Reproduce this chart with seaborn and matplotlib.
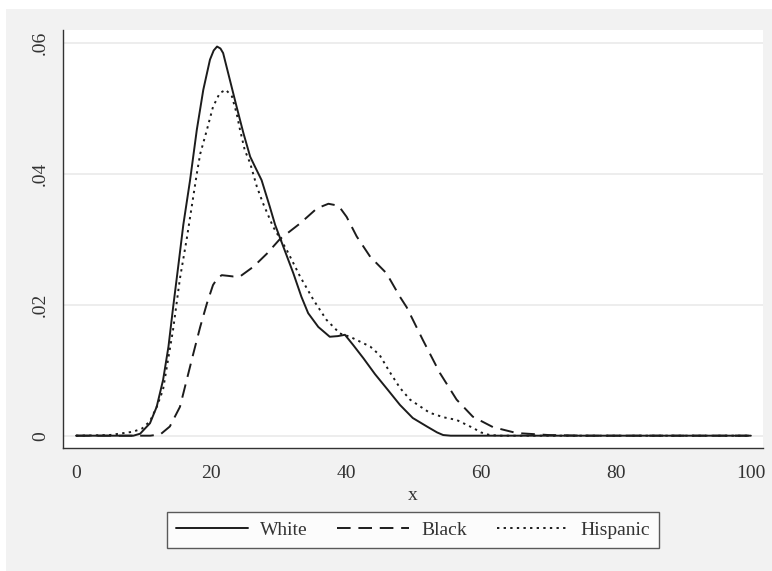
import matplotlib
matplotlib.use("Agg")
import matplotlib.pyplot as plt
import seaborn as sns
import pandas as pd
from matplotlib.patches import Rectangle
from matplotlib.lines import Line2D

# ---- data ----
white_x = [0, 8.5, 9.5, 10.96, 11.95, 12.9, 13.7, 14.4, 15.2, 15.9, 16.9, 17.9, 18.86, 19.85,
           20.4, 20.9, 21.4, 21.8, 22.8, 23.8, 24.8, 25.8, 26.5, 27.5, 28.7, 29.5, 30.7,
           32.2, 33.4, 34.4, 35.9, 37.6, 38.8, 39.85, 41.1, 42.6, 44.3, 46.2, 48.0, 49.9,
           52.0, 53.5, 54.4, 55.5, 100]
white_y = [0, 0, 0.0003, 0.0019, 0.0044, 0.0085, 0.0136, 0.0197, 0.0263, 0.0322, 0.0390, 0.0467, 0.0528, 0.0574,
           0.0588, 0.0594, 0.0591, 0.0584, 0.0543, 0.0502, 0.0462, 0.0426, 0.0411, 0.0390, 0.0350, 0.0322, 0.0289,
           0.0248, 0.0212, 0.0187, 0.0166, 0.0151, 0.0152, 0.0154, 0.0138, 0.0118, 0.0094, 0.0070, 0.0047, 0.0027,
           0.0014, 0.0005, 0.0001, 0, 0]

black_x = [0, 11, 12.5, 13.9, 15.4, 16.4, 17.4, 18.4, 19.4, 20.3, 21.0, 21.6, 22.5, 23.3, 24.3,
           26.3, 28.3, 30.2, 33.2, 35.7, 37.4, 38.9, 40.1, 41.6, 43.6, 46.0, 48.0, 49.0,
           51.4, 53.9, 56.4, 58.8, 61.8, 65.3, 70, 75, 100]
black_y = [0, 0, 0.0002, 0.0014, 0.0044, 0.0085, 0.0126, 0.0166, 0.0202, 0.0230, 0.0241, 0.0245, 0.0244, 0.0243, 0.0243,
           0.0258, 0.0278, 0.0300, 0.0324, 0.0347, 0.0354, 0.0351, 0.0334, 0.0304, 0.0273, 0.0248, 0.0212, 0.0196,
           0.0146, 0.0096, 0.0055, 0.0029, 0.0013, 0.0004, 0.0001, 0, 0]

hisp_x = [0, 5, 8.44, 9.8, 10.96, 12.0, 12.89, 14.37, 15.4, 16.4, 17.3, 17.9, 18.4, 19.4, 20.3,
          21.3, 22.2, 23.1, 23.8, 24.3, 25.0, 25.8, 26.8, 27.7, 29.2, 31.2, 33.2, 35.2, 37.1,
          39.1, 40.6, 41.6, 43.6, 45.0, 46.5, 48.0, 49.5, 52.4, 54.5, 56.4, 58.8, 60, 61.3, 63, 100]
hisp_y = [0, 0.0001, 0.0006, 0.0011, 0.0022, 0.0045, 0.0070, 0.0161, 0.0240, 0.0300, 0.0360, 0.0400, 0.0430, 0.0467, 0.0502,
          0.0523, 0.0528, 0.0518, 0.0492, 0.0467, 0.0436, 0.0416, 0.0380, 0.0355, 0.0319, 0.0284, 0.0243, 0.0207, 0.0177,
          0.0156, 0.0151, 0.0146, 0.0136, 0.0123, 0.0097, 0.0073, 0.0055, 0.0035, 0.0028, 0.0024, 0.0012, 0.0005, 0.0001, 0, 0]

x_ticks = [0, 20, 40, 60, 80, 100]
y_ticks = [0, 0.02, 0.04, 0.06]
y_tick_labels = ["0", ".02", ".04", ".06"]
labels = ["White", "Black", "Hispanic"]

# ---- style ----
sns.set_style("white")
plt.rcParams["font.family"] = ["Liberation Serif", "DejaVu Serif"]
plt.rcParams["font.size"] = 13.5

W, H = 772, 571
fig = plt.figure(figsize=(W / 100, H / 100), dpi=100, facecolor="white")
fig.patches.append(Rectangle((6 / W, 0), 1 - 6 / W, 1 - 9 / H, transform=fig.transFigure,
                             facecolor="#f2f2f2", edgecolor="none", zorder=-10))

ax = fig.add_axes([63 / W, (H - 448) / H, (763 - 63) / W, (448 - 29.5) / H])
ax.set_facecolor("white")

line_color = "#1c1c1c"
styles = [
    dict(linestyle="-"),
    dict(linestyle=(0, (7, 4))),
    dict(linestyle=(0, (1.2, 2.2))),
]
series = [(white_x, white_y), (black_x, black_y), (hisp_x, hisp_y)]
for (xs, ys), lab, st in zip(series, labels, styles):
    df = pd.DataFrame({"x": xs, "y": ys})
    sns.lineplot(data=df, x="x", y="y", ax=ax, color=line_color, linewidth=1.4,
                 sort=False, estimator=None, **st)

ax.set_xlim(-1.93, 101.8)
ax.set_ylim(-0.00188, 0.0620)
ax.set_xticks(x_ticks)
ax.set_xticklabels([str(t) for t in x_ticks])
ax.set_yticks(y_ticks)
ax.set_yticklabels(y_tick_labels, rotation=90, va="center")

for y in y_ticks:
    ax.axhline(y, color="#e8e8e8", linewidth=1.1, zorder=0)

for s in ["top", "right"]:
    ax.spines[s].set_visible(False)
for s in ["left", "bottom"]:
    ax.spines[s].set_color("#333333")
    ax.spines[s].set_linewidth(1.0)

ax.tick_params(axis="both", direction="out", length=6, width=1.0, color="#333333",
               labelcolor="#333333", labelsize=14, pad=4)
ax.tick_params(axis="x", pad=6)
ax.set_xlabel("x", fontsize=14, color="#333333", labelpad=4)
ax.set_ylabel("")

handles = [Line2D([0], [0], color=line_color, linewidth=1.4, **st) for st in styles]
leg = fig.legend(handles, labels, loc="center", bbox_to_anchor=(413 / W, 1 - 530 / H),
                 ncol=3, frameon=True, fancybox=False, edgecolor="#333333",
                 handlelength=3.7, handletextpad=0.6, columnspacing=1.55,
                 fontsize=14, borderpad=0.45, labelcolor="#333333")
leg.get_frame().set_linewidth(1.0)
leg.get_frame().set_facecolor("white")

fig.savefig("out.png", dpi=100, facecolor=fig.get_facecolor())
